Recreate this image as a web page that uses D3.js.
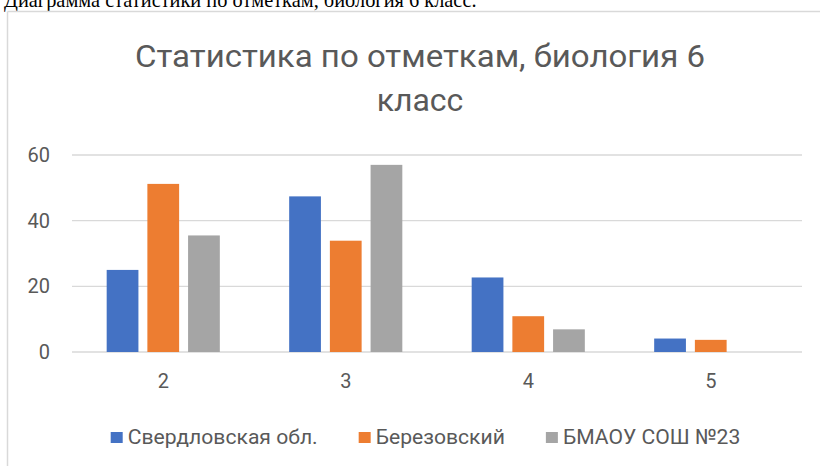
<!DOCTYPE html>
<html><head><meta charset="utf-8">
<script src="https://cdn.jsdelivr.net/npm/d3@7"></script>
<style>
html,body{margin:0;padding:0;background:#fff;}
svg{display:block;}
</style></head>
<body>
<svg id="c" width="820" height="466"></svg>
<script>
const categories = ["2", "3", "4", "5"];
const seriesNames = ["Свердловская обл.", "Березовский", "БМАОУ СОШ №23"];
const svoblValues = [25, 47.4, 22.7, 4.1];
const berezValues = [51.2, 33.9, 10.9, 3.7];
const schoolValues = [35.5, 57, 6.9, 0];
const yTicks = [0, 20, 40, 60];
const colors = ["#4472C4", "#ED7D31", "#A5A5A5"];
const docText = "Диаграмма статистики по отметкам, биология 6 класс.";
const titleLines = ["Статистика по отметкам, биология 6", "класс"];

const seriesValues = [svoblValues, berezValues, schoolValues];
const svg = d3.select("#c");
const sans = "Roboto, 'Open Sans', sans-serif";

function fitText(sel, target) {
  const w = sel.node().getComputedTextLength();
  const fs = parseFloat(sel.attr("font-size"));
  sel.attr("font-size", fs * target / w);
}

// document text above chart (cut off at top)
const dt = svg.append("text").attr("x", 4).attr("y", 7)
  .attr("font-family", "'Liberation Serif', 'Times New Roman', serif")
  .attr("font-size", 24).attr("fill", "#000").text(docText);
fitText(dt, 473);

// chart frame
svg.append("line").attr("x1", 7.5).attr("x2", 820).attr("y1", 11.5).attr("y2", 11.5)
  .attr("stroke", "#d9d9d9").attr("stroke-width", 1.5);
svg.append("line").attr("x1", 7.5).attr("x2", 7.5).attr("y1", 11.5).attr("y2", 466)
  .attr("stroke", "#d9d9d9").attr("stroke-width", 1.5);

// title
svg.append("text").attr("x", 135).attr("y", 67)
  .attr("font-family", sans).attr("font-size", 32).attr("fill", "#595959")
  .attr("textLength", 570).attr("lengthAdjust", "spacingAndGlyphs").text(titleLines[0]);
svg.append("text").attr("x", 420).attr("y", 111).attr("text-anchor", "middle")
  .attr("font-family", sans).attr("font-size", 32).attr("fill", "#595959").text(titleLines[1]);

// scales
const x0 = d3.scaleBand().domain(categories).range([72, 802]).paddingInner(0.38).paddingOuter(0.19);
const x1 = d3.scaleBand().domain(d3.range(seriesNames.length)).range([0, x0.bandwidth()]).paddingInner(0.22);
const y = d3.scaleLinear().domain([0, 60]).range([352, 155]);

// gridlines
svg.append("g").selectAll("line").data(yTicks).join("line")
  .attr("x1", 72).attr("x2", 802)
  .attr("y1", d => y(d)).attr("y2", d => y(d))
  .attr("stroke", "#d9d9d9").attr("stroke-width", 1.3);

// y labels
const yAxisG = svg.append("g").attr("transform", "translate(50,0)")
  .call(d3.axisLeft(y).tickValues(yTicks).tickSize(0).tickPadding(0));
yAxisG.select(".domain").remove();
yAxisG.attr("font-size", 20).attr("font-family", sans);
yAxisG.selectAll("text").attr("font-family", sans).attr("font-size", 20).attr("fill", "#595959");

// bars
const groups = svg.append("g").selectAll("g").data(categories).join("g")
  .attr("transform", d => `translate(${x0(d)},0)`);
groups.selectAll("rect").data((d, i) => seriesValues.map((s, k) => ({k, v: s[i]})))
  .join("rect")
  .attr("x", d => x1(d.k)).attr("width", x1.bandwidth())
  .attr("y", d => y(d.v)).attr("height", d => y(0) - y(d.v))
  .attr("fill", d => colors[d.k]);

// x labels
const xAxisG = svg.append("g").attr("transform", "translate(0,352)")
  .call(d3.axisBottom(x0).tickSize(0).tickPadding(22));
xAxisG.select(".domain").remove();
xAxisG.attr("font-size", 20).attr("font-family", sans);
xAxisG.selectAll("text").attr("font-family", sans).attr("font-size", 20).attr("fill", "#595959");

// legend
const legend = svg.append("g");
const items = legend.selectAll("g").data(seriesNames).join("g");
items.append("rect").attr("width", 12).attr("height", 11).attr("y", 432).attr("fill", (d, i) => colors[i]);
const lt = items.append("text").attr("x", 17).attr("y", 443.5)
  .attr("font-family", sans).attr("font-size", 20).attr("fill", "#595959").text(d => d);
const w0 = lt.nodes()[0].getComputedTextLength();
lt.attr("font-size", 20 * 190 / w0);
let cx = 0;
const offs = [];
lt.each(function (d, i) {
  offs.push(cx);
  cx += 17 + this.getComputedTextLength() + 41;
});
const total = cx - 41;
const start = 425.5 - total / 2;
items.attr("transform", (d, i) => `translate(${start + offs[i]},0)`);
</script>
</body></html>
